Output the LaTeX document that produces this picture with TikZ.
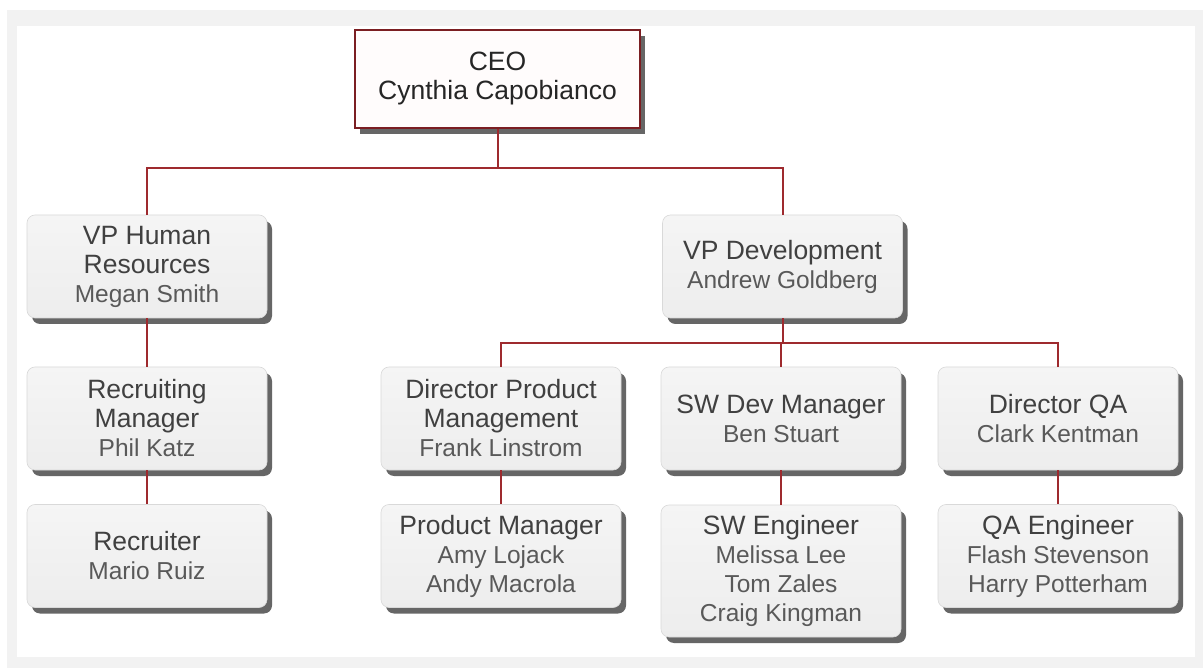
\documentclass[tikz,border=0pt]{standalone}
\usepackage{fontspec}
\setmainfont{Liberation Sans}
\usetikzlibrary{shadows}
\definecolor{linkred}{HTML}{9E2A2E}
\definecolor{ceored}{HTML}{7B1E22}
\definecolor{ttlgray}{HTML}{404040}
\definecolor{nmgray}{HTML}{595959}
\definecolor{framegray}{HTML}{F2F2F2}
\newcommand{\ttl}[1]{{\fontsize{26.5}{29}\selectfont\color{ttlgray}#1}}
\newcommand{\nm}[1]{{\fontsize{24.5}{29}\selectfont\color{nmgray}#1}}
\begin{document}
\begin{tikzpicture}[x=1pt,y=-1pt,
  box/.style={rectangle, rounded corners=8pt, minimum width=240pt, minimum height=103pt,
    top color=black!4, bottom color=black!7, draw=black!15, line width=0.6pt,
    drop shadow={shadow xshift=5pt, shadow yshift=-6pt, fill=black!75, opacity=0.8},
    align=center, inner sep=0pt, font=\fontsize{25}{29}\selectfont},
  ceobox/.style={rectangle, minimum width=285pt, minimum height=98pt,
    fill=red!1, draw=ceored, line width=1.5pt,
    drop shadow={shadow xshift=5pt, shadow yshift=-6pt, fill=black!75, opacity=0.8},
    align=center, inner sep=0pt, font=\fontsize{26.5}{29}\selectfont},
  link/.style={draw=linkred, line width=2pt}]
\useasboundingbox (0,0) rectangle (1203,668);
\fill[framegray] (7,10) rectangle (1203,668);
\fill[white] (17,26) rectangle (1195,657);
% boxes
\node[ceobox] (ceo) at (497.5,79) {\color{black!85}CEO\\\color{black!85}Cynthia Capobianco};
\node[box] (hr) at (147,266.5) {\ttl{VP Human}\\\ttl{Resources}\\\nm{Megan Smith}};
\node[box] (dev) at (782.5,266.5) {\ttl{VP Development}\\\nm{Andrew Goldberg}};
\node[box] (rm) at (147,418.5) {\ttl{Recruiting}\\\ttl{Manager}\\\nm{Phil Katz}};
\node[box] (dpm) at (501,418.5) {\ttl{Director Product}\\\ttl{Management}\\\nm{Frank Linstrom}};
\node[box] (swm) at (781,418.5) {\ttl{SW Dev Manager}\\\nm{Ben Stuart}};
\node[box] (dqa) at (1058,418.5) {\ttl{Director QA}\\\nm{Clark Kentman}};
\node[box] (rec) at (147,556) {\ttl{Recruiter}\\\nm{Mario Ruiz}};
\node[box] (pm) at (501,556) {\ttl{Product Manager}\\\nm{Amy Lojack}\\\nm{Andy Macrola}};
\node[box, minimum height=132pt] (swe) at (781,571) {\ttl{SW Engineer}\\\nm{Melissa Lee}\\\nm{Tom Zales}\\\nm{Craig Kingman}};
\node[box] (qae) at (1058,556) {\ttl{QA Engineer}\\\nm{Flash Stevenson}\\\nm{Harry Potterham}};
% connectors
\coordinate (bus1) at (497.5,168);
\coordinate (bus2) at (782.5,343);
\draw[link] (ceo.south) -- (bus1);
\draw[link] (hr.north) |- (bus1) -| (dev.north);
\draw[link] (hr.south) -- (rm.north);
\draw[link] (rm.south) -- (rec.north);
\draw[link] (dev.south) -- (bus2);
\draw[link] (dpm.north) |- (bus2) -| (dqa.north);
\draw[link] (swm.north) -- (swm.north |- bus2);
\draw[link] (dpm.south) -- (pm.north);
\draw[link] (swm.south) -- (swe.north);
\draw[link] (dqa.south) -- (qae.north);
\end{tikzpicture}
\end{document}
